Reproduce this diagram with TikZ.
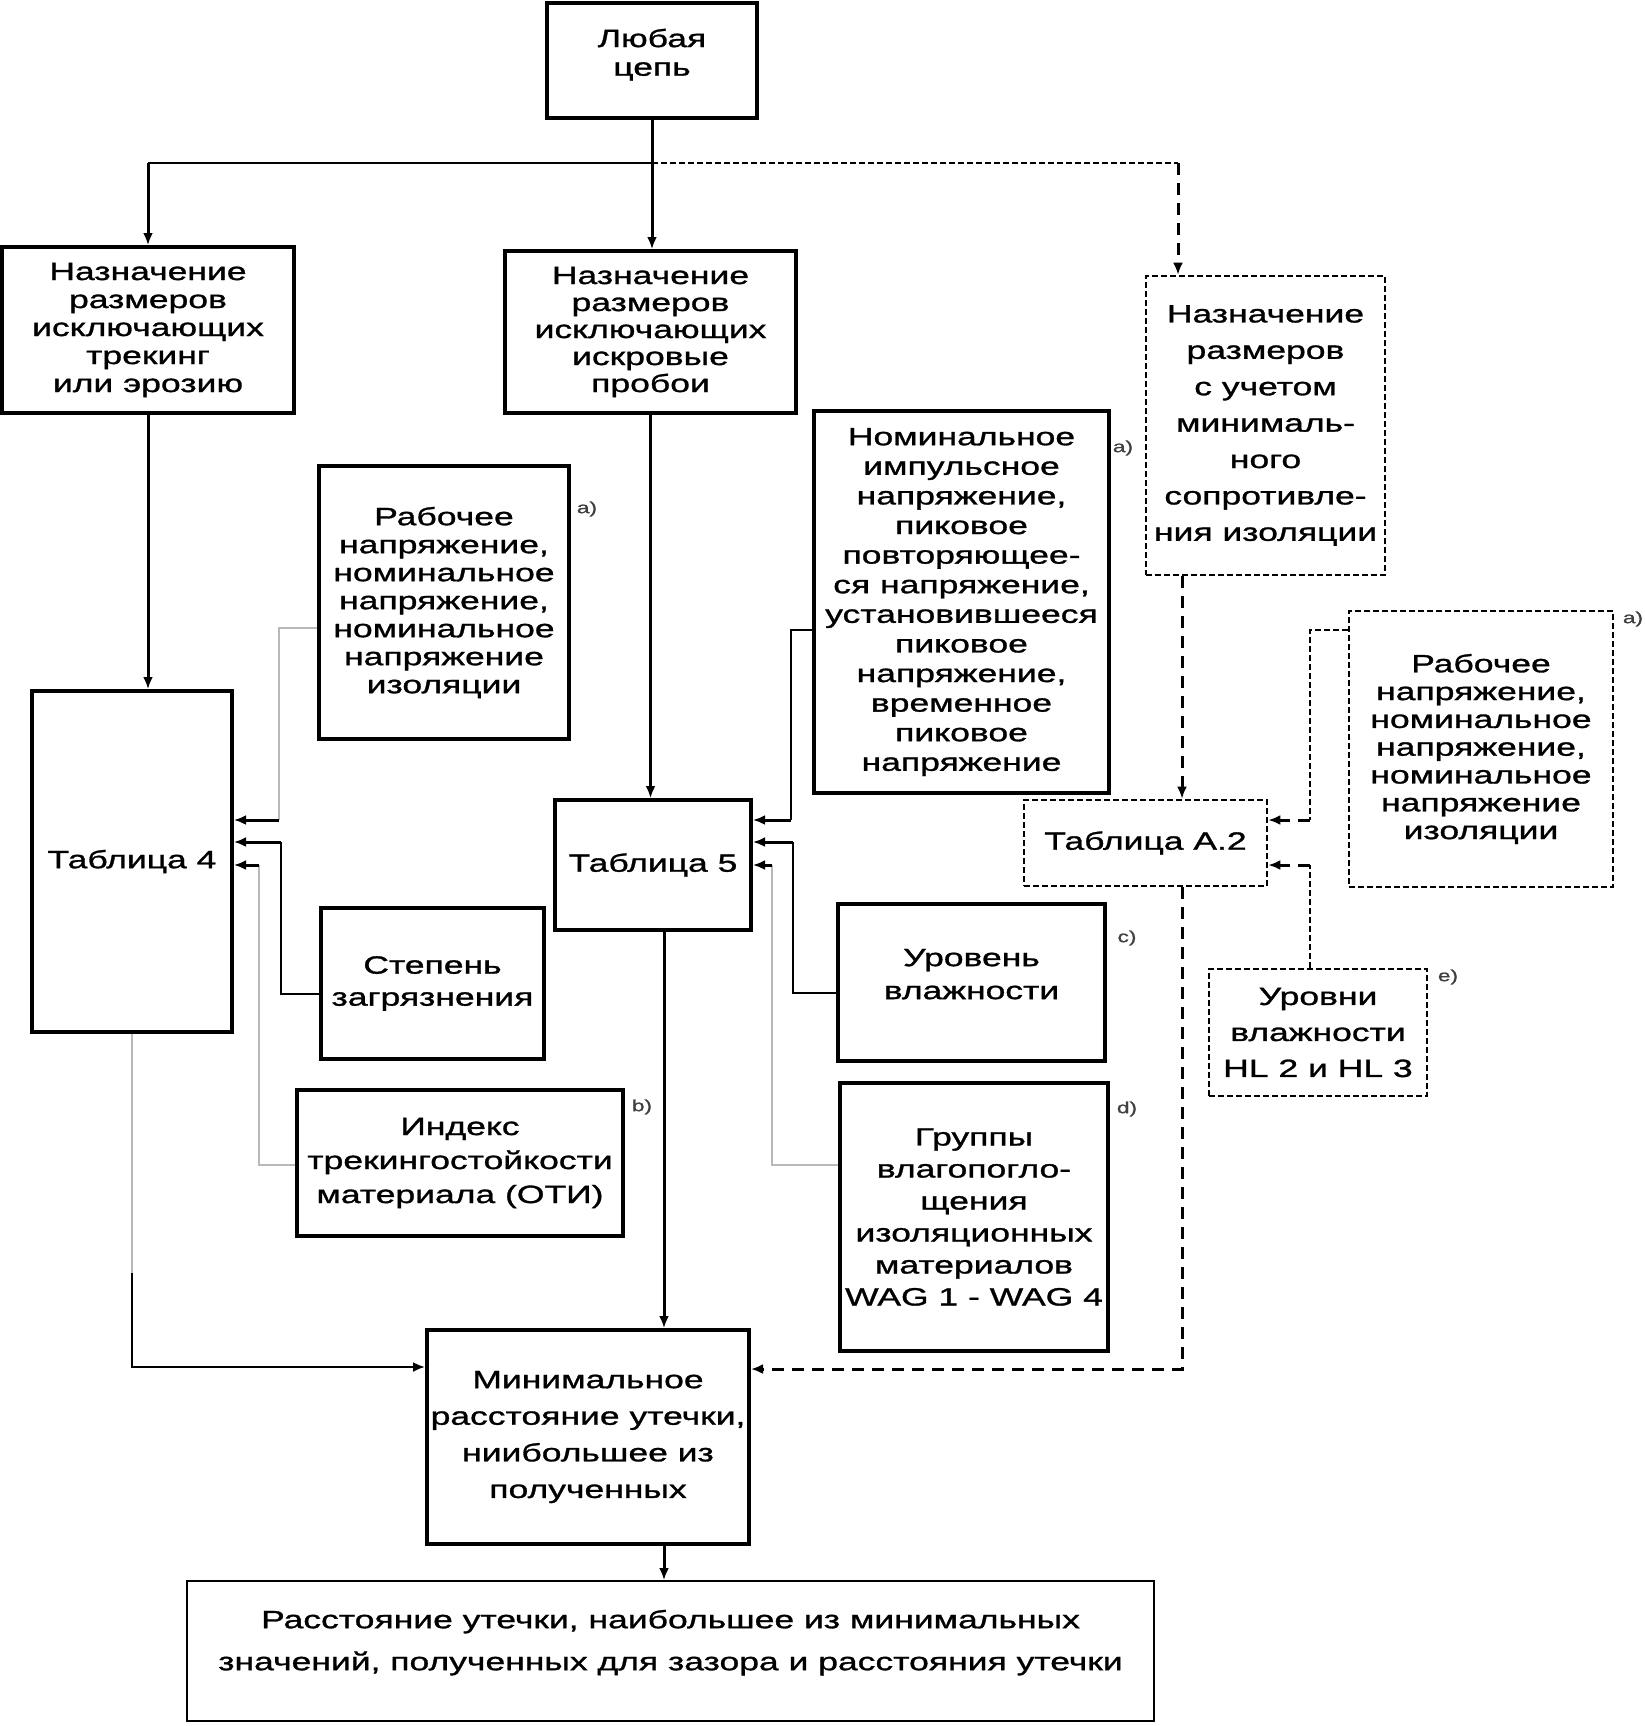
\documentclass[tikz,border=0pt]{standalone}
\usepackage{fontspec}
\setmainfont{Liberation Sans}[FakeStretch=1.42,FakeBold=1.2]
\usetikzlibrary{arrows.meta}
\newcommand\fsk[1]{\fontsize{12.5pt}{#1pt}\selectfont}
\begin{document}
\begin{tikzpicture}[x=0.5pt,y=-0.5pt]
            \tikzset{
                box/.style={draw, line width=2pt, inner sep=0pt, align=center, font=\fsk{14}},
                dbox/.style={box, line width=1.3pt, dash pattern=on 3pt off 1.5pt},
                arc/.style={-{Latex[length=6pt,width=5pt]}, line width=1.5pt},
                darc/.style={arc, dash pattern=on 6pt off 4pt},
                wire/.style={line width=0.7pt},
                dwire/.style={line width=1pt, dash pattern=on 3pt off 1.5pt},
                note/.style={font=\fontsize{8pt}{9pt}\selectfont, text=black!75, inner sep=0pt}
            }
            \useasboundingbox (0,0) rectangle (1645,1726);
            \draw node[box, minimum width=105pt, minimum height=57.5pt, font=\fsk{14.3}] (lyub) at (652,60.5) {Любая\\цепь\\[-6pt]\mbox{}};
            \draw node[box, minimum width=146pt, minimum height=83pt] (lbox) at (148,330) {Назначение\\размеров\\исключающих\\трекинг\\или эрозию};
            \draw node[box, minimum width=145.5pt, minimum height=81pt, font=\fsk{13.5}] (mbox) at (650.5,332) {Назначение\\размеров\\исключающих\\искровые\\пробои};
            \draw node[dbox, minimum width=119.5pt, minimum height=149.5pt, font=\fsk{18.2}] (rbox) at (1265.5,425.5) {Назначение\\размеров\\с учетом\\минималь-\\ного\\сопротивле-\\ния изоляции};
            \draw node[box, minimum width=100pt, minimum height=170.5pt] (tab4) at (132,861.5) {Таблица 4};
            \draw node[box, minimum width=125pt, minimum height=136.5pt] (rab1) at (444,602.5) {Рабочее\\напряжение,\\номинальное\\напряжение,\\номинальное\\напряжение\\изоляции};
            \draw node[box, minimum width=111.5pt, minimum height=75.5pt, font=\fsk{16}] (step) at (432.5,983.5) {Степень\\загрязнения};
            \draw node[box, minimum width=163pt, minimum height=73pt, font=\fsk{17}] (index) at (460,1163) {Индекс\\трекингостойкости\\материала (ОТИ)};
            \draw node[box, minimum width=98pt, minimum height=65pt] (tab5) at (653,865) {Таблица 5};
            \draw node[box, minimum width=147.5pt, minimum height=191pt, font=\fsk{14.8}] (nom) at (961.5,602) {Номинальное\\импульсное\\напряжение,\\пиковое\\повторяющее-\\ся напряжение,\\установившееся\\пиковое\\напряжение,\\временное\\пиковое\\напряжение};
            \draw node[box, minimum width=133.5pt, minimum height=78.5pt, font=\fsk{16.5}] (vlag) at (971.5,982.5) {Уровень\\влажности\\[-8pt]\mbox{}};
            \draw node[box, minimum width=134pt, minimum height=134pt, font=\fsk{16}] (grup) at (974,1217) {Группы\\влагопогло-\\щения\\изоляционных\\материалов\\WAG 1 - WAG 4};
            \draw node[dbox, minimum width=121.5pt, minimum height=43pt] (taba2) at (1145.5,843) {Таблица А.2};
            \draw node[dbox, minimum width=132pt, minimum height=138pt, font=\fsk{13.9}] (rab2) at (1481,749) {Рабочее\\напряжение,\\номинальное\\напряжение,\\номинальное\\напряжение\\изоляции};
            \draw node[dbox, minimum width=109pt, minimum height=63.5pt, font=\fsk{18}] (hl) at (1318,1032.5) {Уровни\\влажности\\HL 2 и HL 3};
            \draw node[box, minimum width=161pt, minimum height=107pt, font=\fsk{18.3}] (minr) at (588,1437) {Минимальное\\расстояние утечки,\\ниибольшее из\\полученных};
            \draw node[box, line width=1pt, minimum width=483.5pt, minimum height=70pt, font=\fsk{21}] (res) at (670.5,1651) {Расстояние утечки, наибольшее из минимальных\\значений, полученных для зазора и расстояния утечки\\[-10pt]\mbox{}};
            % footnote marks
            \node[note] (na1) at (587,509) {a)};
            \node[note] (nb) at (642,1107) {b)};
            \node[note] (na2) at (1123,448) {a)};
            \node[note] (nc) at (1127,938) {c)};
            \node[note] (nd) at (1127,1109) {d)};
            \node[note] (na3) at (1633,619) {a)};
            \node[note] (ne) at (1448,977) {e)};
            % from the top
            \coordinate (J) at (lyub.south |- 0,163);
            \coordinate (R) at (1178,163);
            \draw[arc] (lyub.south) -- (lyub.south |- mbox.north);
            \draw[wire] (J) -- (J -| lbox.north);
            \draw[arc] (J -| lbox.north) -- (lbox.north);
            \draw[dwire] (J) -- (R);
            \draw[darc] (R) -- (R |- rbox.north);
            \draw[arc] (lbox.south) -- (lbox.south |- tab4.north);
            \draw[arc] (mbox.south) -- (mbox.south |- tab5.north);
            \draw[darc] (1182,0 |- rbox.south) -- (1182,0 |- taba2.north);
            % inputs to the tables
            \foreach \src/\ys/\lane/\yt/\col in {%
            rab1/628/279/820/gray!55, step/994/281/842/black, index/1165/259/865/gray!55%
            }{
                \draw[wire, draw=\col] (\src.west |- 0,\ys) -| (\lane,\yt);
                \draw[arc] (\lane,\yt) -- (tab4.east |- 0,\yt);
            }
            \foreach \src/\ys/\lane/\yt/\col in {%
            nom/630/791/820/black, vlag/993/793/842/black, grup/1165/772/865/gray!55%
            }{
                \draw[wire, draw=\col] (\src.west |- 0,\ys) -| (\lane,\yt);
                \draw[arc] (\lane,\yt) -- (tab5.east |- 0,\yt);
            }
            \draw[dwire] (rab2.west |- 0,630) -| (1310,820);
            \draw[darc] (1310,820) -- (taba2.east |- 0,820);
            \draw[dwire] (hl.north -| 1310,0) -- (1310,865);
            \draw[darc] (1310,865) -- (taba2.east |- 0,865);
            % to the result
            \draw[wire, draw=gray!55, line width=1pt] (tab4.south) -- (tab4.south |- 0,1273);
            \draw[arc, line width=1.1pt] (tab4.south |- 0,1273) |- (minr.west |- 0,1367);
            \draw[arc] (664,0 |- tab5.south) -- (664,0 |- minr.north);
            \draw[darc] (1182,0 |- taba2.south) |- (minr.east |- 0,1369);
            \draw[arc] (664,0 |- minr.south) -- (664,0 |- res.north);
        \end{tikzpicture}
\end{document}
